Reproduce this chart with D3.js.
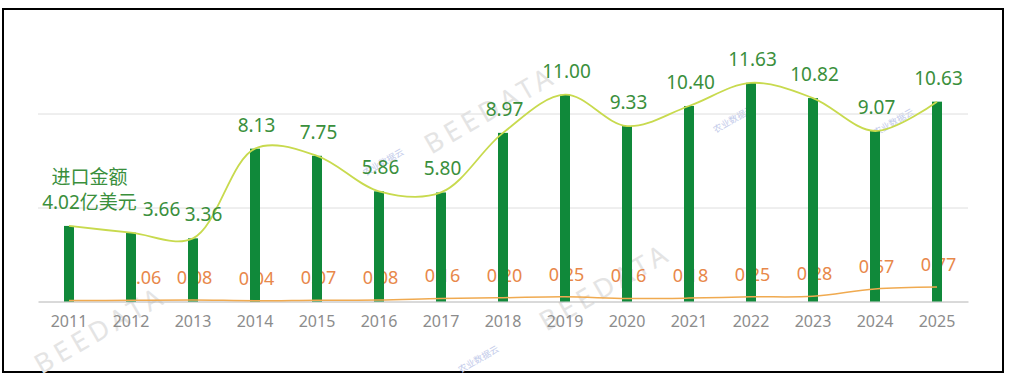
<!DOCTYPE html>
<html>
<head>
<meta charset="utf-8">
<script src="https://cdn.jsdelivr.net/npm/d3@7"></script>
<style>
  body { margin: 0; background: #fff; }
  svg { display: block; font-family: "Noto Sans", "Noto Sans CJK SC", sans-serif; }
</style>
</head>
<body>
<div id="chart"></div>
<script>
// data
var years = ["2011", "2012", "2013", "2014", "2015", "2016", "2017", "2018",
    "2019", "2020", "2021", "2022", "2023", "2024", "2025"];
var importValues = [4.02, 3.66, 3.36, 8.13, 7.75, 5.86, 5.80, 8.97,
    11.00, 9.33, 10.40, 11.63, 10.82, 9.07, 10.63];
var exportValues = [0.05, 0.06, 0.08, 0.04, 0.07, 0.08, 0.16, 0.20,
    0.25, 0.16, 0.18, 0.25, 0.28, 0.67, 0.77];
var gridTicks = [5, 10];

// colours
var barColor = "#10893a",
    importLine = "#c8da4e",
    exportLine = "#f0aa50",
    importLabel = "#3a8f3c",
    exportLabel = "#e8884a";

// labels that got pushed sideways in the original
var importNudge = { "2011": 19, "2012": 29, "2013": 9 };
var exportNudge = { "2012": 11 };

var width = 1014, height = 380;

var svg = d3.select("#chart").append("svg")
    .attr("width", width)
    .attr("height", height);

var x = d3.scaleBand()
    .domain(years)
    .range([38, 968]);

var y = d3.scaleLinear()
    .domain([0, 10])
    .range([301.5, 113.5]);

var cx = function(d) { return x(d) + x.bandwidth() / 2; };

// frame
svg.append("rect")
    .attr("x", 3).attr("y", 9)
    .attr("width", 1000).attr("height", 363)
    .attr("fill", "none")
    .attr("stroke", "#000")
    .attr("stroke-width", 2);

// watermarks
var marks = [[495, 118], [610, 295], [105, 338]];
svg.append("g").selectAll("text")
    .data(marks)
    .enter().append("text")
    .attr("transform", function(d) { return "translate(" + d[0] + "," + d[1] + ") rotate(-30)"; })
    .attr("text-anchor", "middle")
    .style("font-size", "27px")
    .style("letter-spacing", "5px")
    .attr("fill", "#e4e4e4")
    .text("BEEDATA");

var logos = [[385, 165], [735, 122], [895, 125], [480, 362]];
svg.append("g").selectAll("text")
    .data(logos)
    .enter().append("text")
    .attr("transform", function(d) { return "translate(" + d[0] + "," + d[1] + ") rotate(-30)"; })
    .attr("text-anchor", "middle")
    .style("font-size", "9px")
    .attr("fill", "#c3cbea")
    .text("农业数据云");

// grid
svg.append("g").selectAll("line")
    .data(gridTicks)
    .enter().append("line")
    .attr("x1", 38).attr("x2", 968)
    .attr("y1", function(d) { return y(d) + 0.5; })
    .attr("y2", function(d) { return y(d) + 0.5; })
    .attr("stroke", "#dedede");

// x axis
var xAxis = svg.append("g")
    .attr("transform", "translate(0," + y(0) + ")")
    .call(d3.axisBottom(x).tickSize(0).tickPadding(14));
xAxis.select(".domain").attr("stroke", "#b4b4b4");
xAxis.selectAll("text")
    .attr("fill", "#8c8c8c")
    .style("font-size", "16px")
    .style("font-family", "'Noto Sans', sans-serif");

// export labels sit under the bars
svg.append("g").selectAll("text")
    .data(years)
    .enter().append("text")
    .filter(function(d, i) { return i > 0; })
    .attr("x", function(d) { return cx(d) + 1.5 + (exportNudge[d] || 0); })
    .attr("y", function(d) { return y(exportValues[years.indexOf(d)]) - 16; })
    .attr("text-anchor", "middle")
    .attr("fill", exportLabel)
    .style("font-size", "18px")
    .text(function(d) { return exportValues[years.indexOf(d)].toFixed(2); });

// bars
svg.append("g").selectAll("rect")
    .data(years)
    .enter().append("rect")
    .attr("x", function(d) { return cx(d) - 5; })
    .attr("width", 10)
    .attr("y", function(d, i) { return y(importValues[i]); })
    .attr("height", function(d, i) { return y(0) - y(importValues[i]); })
    .attr("fill", barColor);

// lines
var line = function(vals) {
    return d3.line()
        .x(function(d) { return cx(d); })
        .y(function(d, i) { return y(vals[i]); })
        .curve(d3.curveCatmullRom.alpha(0.5))(years);
};

svg.append("path")
    .attr("d", line(exportValues))
    .attr("fill", "none")
    .attr("stroke", exportLine)
    .attr("stroke-width", 1.5);

svg.append("path")
    .attr("d", line(importValues))
    .attr("fill", "none")
    .attr("stroke", importLine)
    .attr("stroke-width", 1.8);

// import labels
var labels = svg.append("g");
years.forEach(function(d, i) {
    var lx = cx(d) + 1.5 + (importNudge[d] || 0),
        ly = y(importValues[i]) - 17;
    var t = labels.append("text")
        .attr("x", lx)
        .attr("y", ly)
        .attr("text-anchor", "middle")
        .attr("fill", importLabel)
        .style("font-size", "19px");
    if (i == 0) {
        t.text(importValues[i].toFixed(2) + "亿美元");
        labels.append("text")
            .attr("x", lx)
            .attr("y", ly - 25)
            .attr("text-anchor", "middle")
            .attr("fill", importLabel)
            .style("font-size", "19px")
            .text("进口金额");
    } else {
        t.text(importValues[i].toFixed(2));
    }
});
</script>
</body>
</html>
